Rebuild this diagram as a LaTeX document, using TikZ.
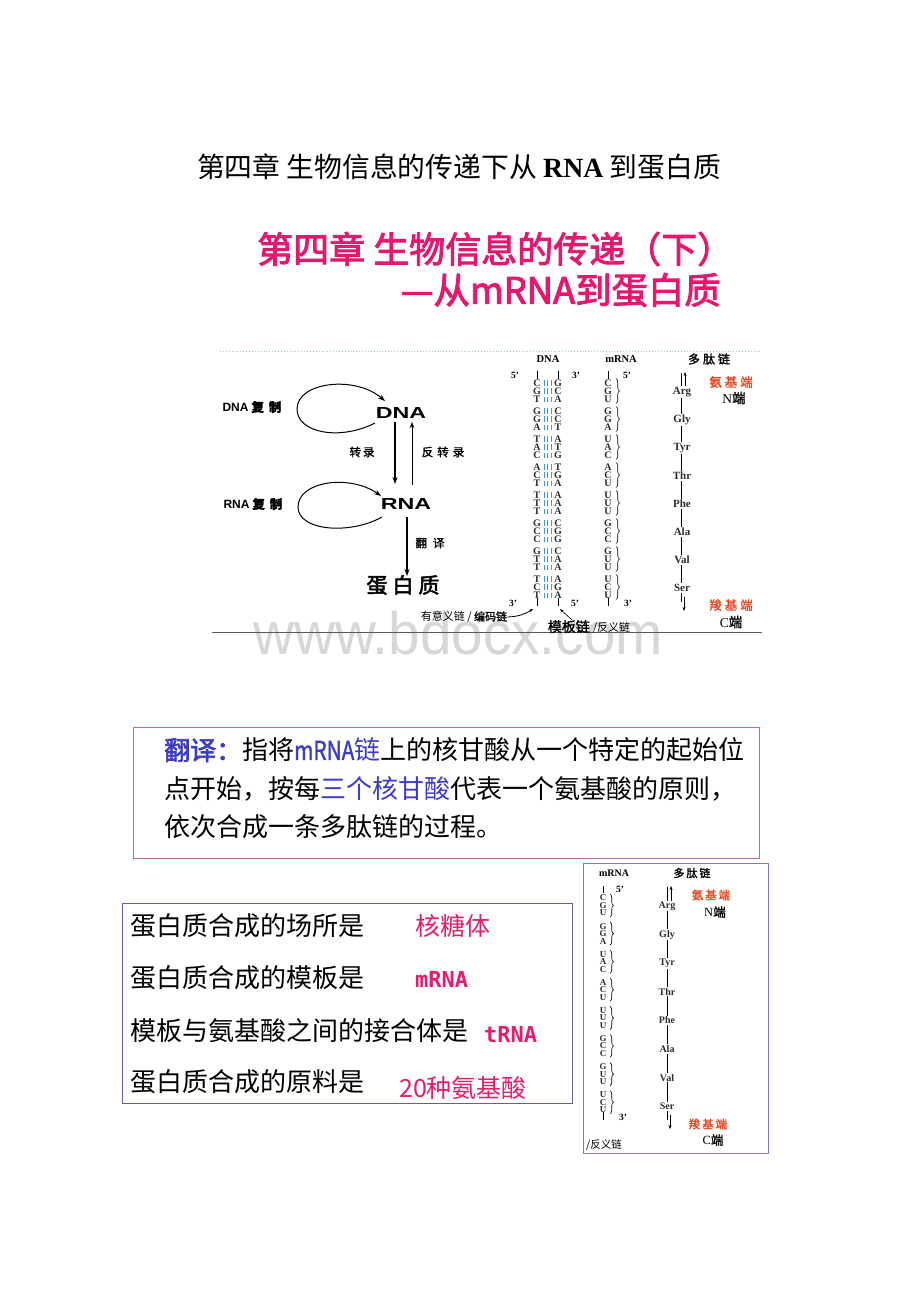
\documentclass[tikz,border=0pt]{standalone}
\usepackage{fontspec}
\usepackage{graphicx}
\setmainfont{Liberation Serif}
\newfontfamily\cjk{Noto Sans CJK SC}
\newfontfamily\cjkb{Noto Sans CJK SC}[FakeBold=2.5]
\newfontfamily\cjks{Noto Sans CJK SC}[FakeBold=1.5]
\newfontfamily\sans{Liberation Sans}
\newfontfamily\mono{DejaVu Sans Mono}
\usetikzlibrary{arrows.meta,decorations.pathreplacing}
\newcommand\fsz[1]{\fontsize{#1}{#1}\selectfont}
\definecolor{pinkT}{RGB}{232,22,110}
\definecolor{pinkA}{RGB}{228,30,110}
\definecolor{blueT}{RGB}{60,60,200}
\definecolor{hbond}{RGB}{60,150,230}
\definecolor{redN}{RGB}{230,70,30}
\definecolor{boxPink}{RGB}{200,100,175}
\definecolor{boxBlue}{RGB}{95,95,175}
\definecolor{boxBlue2}{RGB}{120,120,195}
\definecolor{lineTeal}{RGB}{160,205,205}
\definecolor{wm}{RGB}{215,215,215}
\definecolor{aaGrey}{RGB}{45,45,45}
\begin{document}
\begin{tikzpicture}[x=1pt,y=-1pt,
  every node/.style={inner sep=0pt},
  arr/.style={-{Stealth[length=7pt,width=5pt]}, line width=1.1pt},
  thinarr/.style={-{Stealth[length=6pt,width=4.5pt]}, line width=0.7pt},
  loop/.style={-{Stealth[length=7pt,width=5pt]}, line width=1pt},
  tiny/.style={-{Stealth[length=4pt,width=3pt]}, line width=0.5pt},
  base/.style={font=\rmfamily\bfseries\fsz{10}, text=aaGrey},
  sbase/.style={font=\rmfamily\bfseries\fsz{9}, text=aaGrey},
  aa/.style={font=\rmfamily\bfseries\fsz{11}, text=aaGrey, fill=white, inner ysep=1pt},
  saa/.style={font=\rmfamily\bfseries\fsz{10}, text=aaGrey, fill=white, inner ysep=1pt},
  hb/.style={hbond, line width=1pt},
  brace/.style={decorate, decoration={brace, amplitude=3.5pt}, line width=0.6pt},
  prime/.style={font=\rmfamily\bfseries\fsz{9.5}},
  body/.style={font=\cjk\fsz{26}, anchor=west},
  ans/.style={anchor=west, text=pinkA}]
\useasboundingbox (0,0) rectangle (920,1302);
\fill[white] (0,0) rectangle (920,1302);

% watermark
\node[text=wm, anchor=base] (wmark) at (458,654) {\sans\fsz{60}\scalebox{0.945}[1]{www.bdocx.com}};

% title
\node (title) at (459,167) {\cjk\fsz{27.8}第四章 生物信息的传递下从 {\rmfamily\bfseries RNA} 到蛋白质};

% pink title
\node[anchor=west, text=pinkT] (pt1) at (257,249) {\cjkb\fsz{36}第四章 生物信息的传递（下）};
\node[anchor=east, text=pinkT] (pt2) at (721,290) {\cjkb\fsz{36.4}—从mRNA到蛋白质};

% panel lines
\draw[lineTeal, dotted, line width=0.9pt] (220,351) -- (762,351);
\draw[black!65, line width=1pt] (212,632) -- (762,632);

% left diagram
\node (dnarep) at (252,407) {\sans\bfseries\fsz{12}DNA{\cjks\fsz{12.5} 复\hspace{5pt}制}};
\node (rnarep) at (253,504) {\sans\bfseries\fsz{12}RNA{\cjks\fsz{12.5} 复\hspace{5pt}制}};
\node (dna) at (401,413) {\sans\bfseries\fsz{16}\scalebox{1.45}[1]{DNA}};
\node (rna) at (406,504) {\sans\bfseries\fsz{16}\scalebox{1.45}[1]{RNA}};
\node (prot) at (403,585) {\cjkb\fsz{21}蛋\hspace{5pt}白\hspace{5pt}质};
\node (zl) at (362,452) {\cjks\fsz{11.5}转\hspace{2pt}录};
\node (fzl) at (443,452) {\cjks\fsz{11.5}反\hspace{4pt}转\hspace{4pt}录};
\node (fy) at (430,543) {\cjks\fsz{11.5}翻\hspace{6pt}译};

\coordinate (t1) at (395,422); \coordinate (t2) at (395,484);
\coordinate (r1) at (412,485); \coordinate (r2) at (412,422);
\coordinate (f1) at (407,517); \coordinate (f2) at (407,576);
\draw[arr] (t1) -- (t2);
\draw[thinarr] (r1) -- (r2);
\draw[arr] (f1) -- (f2);
\coordinate (dl1) at (375,423); \coordinate (dl2) at (385,401);
\draw[loop] (dl1) .. controls (340,441) and (297,433) .. (297,409) .. controls (297,382) and (355,375) .. (dl2);
\coordinate (rl1) at (382,517); \coordinate (rl2) at (381,496);
\draw[loop] (rl1) .. controls (350,535) and (298,531) .. (298,507) .. controls (298,481) and (350,474) .. (rl2);

% DNA table headers
\node (hdna) at (548,359) {\rmfamily\bfseries\fsz{10.5}DNA};
\node (hmrna) at (621,359) {\rmfamily\bfseries\fsz{10.5}mRNA};
\node (hpep) at (709,359) {\cjks\fsz{12}多\hspace{3pt}肽\hspace{3pt}链};
\node[prime] (p1) at (515,375) {5'};
\node[prime] (p2) at (576,375) {3'};
\node[prime] (p3) at (627,375) {5'};
\node[prime] (p4) at (513,603) {3'};
\node[prime] (p5) at (575,603) {5'};
\node[prime] (p6) at (628,603) {3'};
\foreach \xx in {537,558,608} {
  \draw[line width=0.7pt] (\xx,371) -- (\xx,379);
  \draw[line width=0.7pt] (\xx,598) -- (\xx,606);
}
\foreach \L/\R/\M [count=\i from 0] in {C/G/C,G/C/G,T/A/U,G/C/G,G/C/G,A/T/A,T/A/U,A/T/A,C/G/C,A/T/A,C/G/C,T/A/U,T/A/U,T/A/U,T/A/U,G/C/G,C/G/C,C/G/C,G/C/G,T/A/U,T/A/U,T/A/U,C/G/C,T/A/U} {
  \pgfmathsetmacro\yy{383+28*floor(\i/3)+8.2*mod(\i,3)}
  \node[base] (l\i) at (537,\yy) {\L};
  \node[base] (r\i) at (558,\yy) {\R};
  \node[base] (m\i) at (608,\yy) {\M};
  \foreach \hx in {544,547.5,551} \draw[hb] (\hx,\yy-2.8) -- (\hx,\yy+2.8);
}
\foreach \g in {0,...,7} {
  \pgfmathsetmacro\yt{383+28*\g-4.5}
  \pgfmathsetmacro\yb{383+28*\g+20.5}
  \draw[brace] (616,\yt) -- (616,\yb);
}
\draw[line width=0.6pt] (681,373) -- (681,602);
\draw[tiny] (685,390) -- (685,372);
\draw[tiny] (684,597) -- (684,611);
\foreach \aa [count=\g from 0] in {Arg,Gly,Tyr,Thr,Phe,Ala,Val,Ser} {
  \node[aa] (aa\g) at (682,{392+28*\g}) {\aa};
}
\node[text=redN] (nterm) at (731,382) {\cjks\fsz{12.5}氨\hspace{3pt}基\hspace{3pt}端};
\node (nend) at (734,398) {\rmfamily\fsz{13.5}N{\cjks 端}};
\node[text=redN] (cterm) at (731,605) {\cjks\fsz{12.5}羧\hspace{3pt}基\hspace{3pt}端};
\node (cend) at (731,622) {\rmfamily\fsz{13.5}C{\cjks 端}};

\node (coding) at (464,617) {\cjk\fsz{11}有意义链 / {\cjks 编码链}};
\node (templ) at (589,627) {{\cjks\fsz{14}模板链}\hspace{3pt}{\cjk\fsz{11}/反义链}};
\coordinate (ca) at (533,609);
\coordinate (ta) at (560,609);
\draw[tiny, line width=0.8pt] (coding.east) to[bend right=15] (ca);
\draw[tiny, line width=0.6pt] (572,620) -- (ta);

% translation box
\draw[boxPink, line width=1pt] (133,727) rectangle (759,858);
\node[body] (tl1) at (164,750) {{\cjkb\color{blueT}翻译：}指将{\color{blueT}\scalebox{0.8}[1]{\cjks mRNA}链}上的核甘酸从一个特定的起始位};
\node[body] (tl2) at (164,789) {点开始，按每{\color{blueT}三个核甘酸}代表一个氨基酸的原则，};
\node[body] (tl3) at (164,827) {依次合成一条多肽链的过程。};

% lower-left box
\draw[boxBlue, line width=1pt] (122,903) rectangle (572,1103);
\node[body] (q1) at (130,926) {蛋白质合成的场所是};
\node[body] (q2) at (130,978) {蛋白质合成的模板是};
\node[body] (q3) at (130,1031) {模板与氨基酸之间的接合体是};
\node[body] (q4) at (130,1082) {蛋白质合成的原料是};
\node[ans] (a1) at (415,926) {\cjk\fsz{25}核糖体};
\node[ans] (a2) at (415,979) {\mono\bfseries\fsz{22}mRNA};
\node[ans] (a3) at (484,1034) {\mono\bfseries\fsz{22}tRNA};
\node[ans] (a4) at (399,1088) {\cjk\fsz{25}20种氨基酸};

% lower-right panel
\draw[boxBlue2, line width=0.8pt] (583,863) rectangle (768,1153);
\node (shm) at (614,873) {\rmfamily\bfseries\fsz{10}mRNA};
\node (shp) at (692,873) {\cjks\fsz{11}多\hspace{2pt}肽\hspace{2pt}链};
\node[prime] (sp1) at (620,889) {5'};
\node[prime] (sp2) at (623,1117) {3'};
\draw[line width=0.7pt] (603,886) -- (603,893);
\draw[line width=0.7pt] (603,1112) -- (603,1120);
\foreach \M [count=\i from 0] in {C,G,U,G,G,A,U,A,C,A,C,U,U,U,U,G,C,C,G,U,U,U,C,U} {
  \pgfmathsetmacro\yy{898+28.1*floor(\i/3)+7.5*mod(\i,3)}
  \node[sbase] (sm\i) at (603,\yy) {\M};
}
\foreach \g in {0,...,7} {
  \pgfmathsetmacro\yt{898+28.1*\g-4}
  \pgfmathsetmacro\yb{898+28.1*\g+19}
  \draw[brace] (610,\yt) -- (610,\yb);
}
\draw[line width=0.6pt] (667,887) -- (667,1120);
\draw[tiny] (671,903) -- (671,886);
\draw[tiny] (670,1115) -- (670,1129);
\foreach \aa [count=\g from 0] in {Arg,Gly,Tyr,Thr,Phe,Ala,Val,Ser} {
  \node[saa] (saa\g) at (667,{906+28.6*\g}) {\aa};
}
\node[text=redN] (snterm) at (711,895) {\cjks\fsz{11.5}氨\hspace{2pt}基\hspace{2pt}端};
\node (snend) at (715,912) {\rmfamily\fsz{12.5}N{\cjks 端}};
\node[text=redN] (scterm) at (708,1124) {\cjks\fsz{11.5}羧\hspace{2pt}基\hspace{2pt}端};
\node (scend) at (713,1140) {\rmfamily\fsz{12.5}C{\cjks 端}};
\node[anchor=west] (santi) at (586,1145) {\cjk\fsz{10.5}/反义链};
\end{tikzpicture}
\end{document}
